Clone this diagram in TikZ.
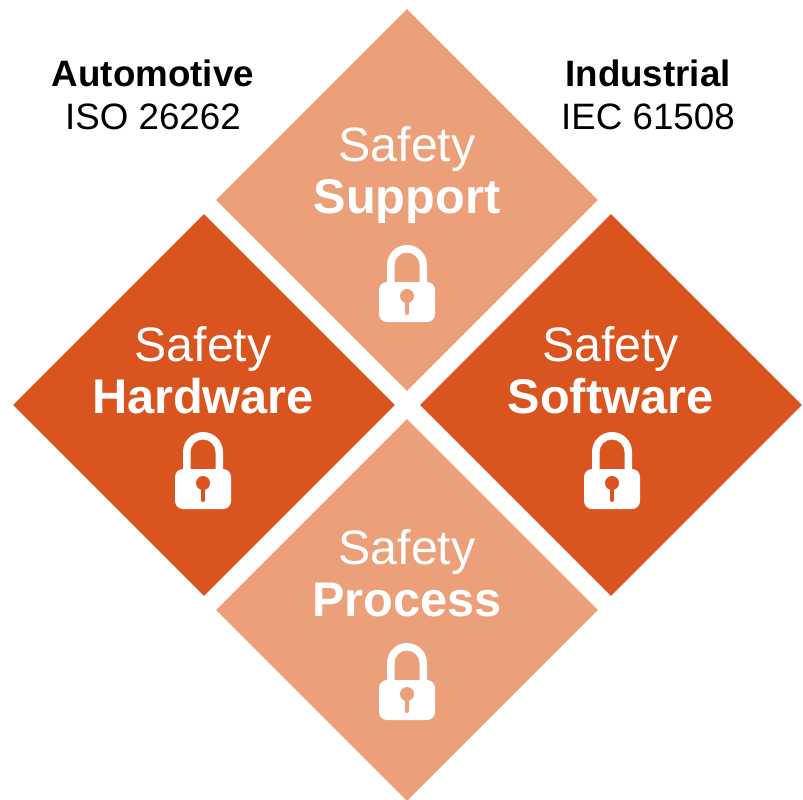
\documentclass[tikz,border=0pt]{standalone}
\usepackage{fontspec}
\setmainfont{Liberation Sans}
\usepackage[dvipsnames]{xcolor}
\usetikzlibrary{shapes.geometric}
\definecolor{lightorange}{HTML}{EBA07A}
\definecolor{darkorange}{HTML}{D9541E}
\newcommand{\petalname}[1]{{\fontsize{27.7}{29.6}\selectfont\bfseries #1}}
\tikzset{
  petal/.style={shape=diamond, aspect=1, inner sep=0pt, minimum width=7.64cm, minimum height=7.64cm},
  petallabel/.style={text=white, align=center, inner sep=0pt, font=\fontsize{27.5}{29.4}\selectfont},
  normlabel/.style={text=black, align=center, inner sep=0pt, font=\fontsize{20.9}{24.4}\selectfont},
  pics/padlock/.style={code={
    \fill[white, rounded corners=0.16cm] (-0.56,-1.54) rectangle (0.56,-0.74);
    \fill[white] (-0.4,-0.8) -- (-0.4,-0.4) arc (180:0:0.4) -- (0.4,-0.8) -- (0.25,-0.8) -- (0.25,-0.4) arc (0:180:0.25) -- (-0.25,-0.8) -- cycle;
    \fill[#1] (0,-1.02) circle (0.14);
    \draw[#1, line width=0.08cm, line cap=round] (0,-1.02) -- (0,-1.36);
  }}
}

\begin{document}
\begin{tikzpicture}
    \useasboundingbox (0,0) rectangle (16.06,-15.98);

    \node[petal, fill=lightorange] (support) at (8.14,-4) {};
    \node[petal, fill=lightorange] (process) at (8.14,-12.2) {};
    \node[petal, fill=darkorange] (hardware) at (4.08,-8.1) {};
    \node[petal, fill=darkorange] (software) at (12.22,-8.1) {};

    \node[petallabel] (supportlabel) at (8.14,-3.5) {Safety\\\petalname{Support}};
    \node[petallabel] (hardwarelabel) at (4.06,-7.4) {Safety\\\petalname{Hardware}};
    \node[petallabel] (softwarelabel) at (12.21,-7.4) {Safety\\\petalname{Software}};
    \node[petallabel] (processlabel) at (8.14,-11.47) {Safety\\\petalname{Process}};

    \node[normlabel] (automotive) at (3.06,-1.9) {\textbf{Automotive}\\ISO 26262};
    \node[normlabel] (industrial) at (12.96,-1.9) {\textbf{Industrial}\\IEC 61508};

    \pic at (8.14,-4.9) {padlock=lightorange};
    \pic at (4.06,-8.64) {padlock=darkorange};
    \pic at (12.24,-8.64) {padlock=darkorange};
    \pic at (8.14,-12.86) {padlock=lightorange};
\end{tikzpicture}
\end{document}
